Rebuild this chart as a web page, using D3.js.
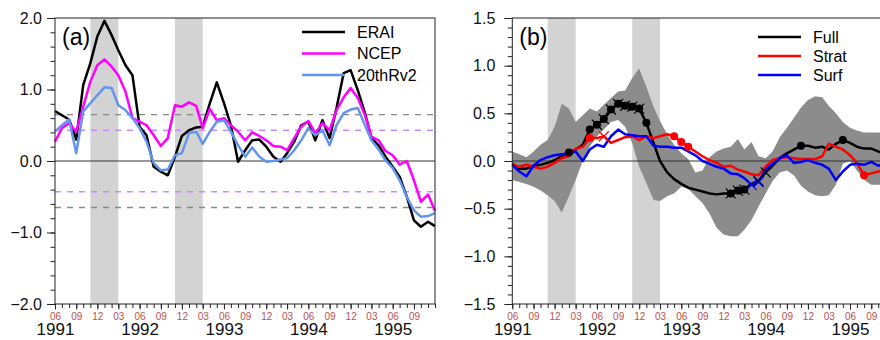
<!DOCTYPE html>
<html>
<head>
<meta charset="utf-8">
<script src="https://cdnjs.cloudflare.com/ajax/libs/d3/7.8.5/d3.min.js"></script>
<style>
    body { margin: 0; background: #fff; }
    svg { display: block; font-family: "Liberation Sans", Arial, Helvetica, sans-serif; }
</style>
</head>
<body>
<div id="vis"></div>
<script>
// monthly values, Jun 1991 .. Dec 1995 (55 months)
var erai = [0.70, 0.64, 0.58, 0.30, 1.06, 1.37, 1.74, 1.96, 1.76, 1.55, 1.34, 1.20,
    0.48, 0.36, -0.08, -0.15, -0.20, 0.06, 0.35, 0.43, 0.47, 0.48, 0.81, 1.10,
    0.81, 0.50, -0.01, 0.15, 0.29, 0.30, 0.20, 0.06, -0.01, 0.11, 0.27, 0.50,
    0.55, 0.29, 0.57, 0.32, 0.74, 1.23, 1.27, 0.99, 0.67, 0.32, 0.22, 0.06,
    -0.08, -0.22, -0.50, -0.83, -0.92, -0.85, -0.91];
var ncep = [0.27, 0.46, 0.53, 0.41, 0.76, 1.11, 1.34, 1.42, 1.32, 1.20, 0.97, 0.60,
    0.55, 0.50, 0.36, 0.21, 0.32, 0.78, 0.76, 0.82, 0.77, 0.46, 0.73, 0.57,
    0.60, 0.50, 0.41, 0.29, 0.40, 0.35, 0.29, 0.21, 0.20, 0.15, 0.32, 0.48,
    0.56, 0.39, 0.53, 0.43, 0.71, 0.89, 1.02, 0.88, 0.64, 0.34, 0.29, 0.14,
    0.08, -0.05, 0.00, -0.27, -0.57, -0.47, -0.70];
var rv2 = [0.41, 0.50, 0.58, 0.11, 0.69, 0.81, 0.92, 1.03, 1.02, 0.78, 0.71, 0.60,
    0.46, 0.27, -0.03, -0.13, -0.12, 0.08, 0.11, 0.39, 0.41, 0.24, 0.41, 0.55,
    0.57, 0.41, 0.22, 0.06, 0.19, 0.06, -0.01, 0.00, 0.02, 0.04, 0.15, 0.29,
    0.46, 0.36, 0.43, 0.22, 0.50, 0.67, 0.72, 0.74, 0.50, 0.29, 0.16, 0.01,
    -0.10, -0.27, -0.50, -0.69, -0.78, -0.77, -0.73];
var sigGray = [0.65, -0.65];
var sigPurple = [0.43, -0.43];

var full = [-0.03, -0.08, -0.08, -0.05, -0.04, -0.02, 0.01, 0.05, 0.09, 0.12, 0.17, 0.33,
    0.38, 0.44, 0.54, 0.60, 0.58, 0.57, 0.55, 0.40, 0.19, 0.00, -0.12, -0.19,
    -0.24, -0.28, -0.30, -0.32, -0.34, -0.35, -0.34, -0.34, -0.31, -0.30, -0.24, -0.21,
    -0.12, -0.05, 0.03, 0.08, 0.12, 0.16, 0.16, 0.14, 0.15, 0.12, 0.18, 0.22,
    0.19, 0.15, 0.13, 0.13, 0.10, 0.08, 0.07];
var strat = [-0.04, -0.06, -0.04, -0.06, -0.08, -0.06, -0.02, 0.03, 0.05, 0.13, 0.15, 0.24,
    0.24, 0.26, 0.19, 0.22, 0.25, 0.26, 0.22, 0.26, 0.24, 0.26, 0.28, 0.26,
    0.20, 0.15, 0.10, 0.05, 0.01, -0.02, -0.06, -0.05, -0.09, -0.11, -0.14, -0.15,
    -0.06, 0.01, 0.03, 0.04, 0.03, 0.02, 0.02, 0.02, 0.05, 0.18, 0.15, 0.12,
    0.06, -0.02, -0.15, -0.13, -0.11, -0.10, -0.09];
var surf = [-0.04, -0.11, -0.16, -0.05, 0.01, 0.04, 0.06, 0.07, 0.08, 0.10, 0.00, 0.12,
    0.17, 0.15, 0.26, 0.33, 0.28, 0.27, 0.26, 0.26, 0.16, 0.15, 0.15, 0.14,
    0.14, 0.10, 0.06, 0.00, -0.03, -0.06, -0.08, -0.13, -0.14, -0.18, -0.25, -0.22,
    -0.09, -0.03, 0.03, 0.06, -0.02, -0.01, 0.01, -0.02, -0.04, -0.08, -0.20, -0.11,
    -0.04, -0.03, -0.04, -0.01, -0.05, -0.03, -0.03];
var envHigh = [0.10, 0.07, 0.04, 0.10, 0.17, 0.22, 0.36, 0.60, 0.55, 0.41, 0.48, 0.55,
    0.52, 0.59, 0.66, 0.73, 0.74, 0.87, 0.97, 0.78, 0.57, 0.42, 0.28, 0.17,
    0.08, 0.02, -0.12, -0.10, 0.04, 0.10, 0.13, 0.15, 0.23, 0.12, 0.20, 0.05,
    0.03, 0.10, 0.25, 0.35, 0.45, 0.56, 0.64, 0.68, 0.67, 0.58, 0.50, 0.41,
    0.35, 0.32, 0.30, 0.30, 0.30, 0.29, 0.29];
var envLow = [-0.20, -0.22, -0.24, -0.27, -0.31, -0.36, -0.42, -0.54, -0.37, -0.20, 0.00, 0.15,
    0.26, 0.33, 0.41, 0.43, 0.36, 0.19, -0.06, -0.23, -0.41, -0.42, -0.37, -0.34,
    -0.27, -0.29, -0.37, -0.44, -0.55, -0.70, -0.77, -0.79, -0.79, -0.72, -0.62, -0.48,
    -0.34, -0.21, -0.12, -0.10, -0.15, -0.26, -0.32, -0.36, -0.37, -0.36, -0.25, -0.03,
    0.00, -0.10, -0.20, -0.25, -0.25, -0.25, -0.25];

// month indices carrying markers
var fullDots = [8, 11, 19, 41, 47];
var fullStars = [12, 13, 14, 15, 16, 17, 18, 31, 32, 33];
var fullCross = [35, 36];
var stratDots = [11, 23, 24, 25, 50];
var stratCross = [13];
var surfCross = [34, 35];

// NDJFM shading
var shadeStart = [new Date(1991, 10, 1), new Date(1992, 10, 1)];
var shadeEnd = [new Date(1992, 2, 1), new Date(1993, 2, 1)];

var start = new Date(1991, 5, 1);
var months = d3.range(55).map(function(i) { return d3.timeMonth.offset(start, i); });

var svg = d3.select('#vis')
    .append('svg')
    .attr('width', 880)
    .attr('height', 340);

var plotTop = 18, plotBottom = 304;

var drawPanel = function(opt) {
    var x = d3.scaleTime()
        .domain([start, new Date(1995, 11, 1)])
        .range([opt.left, opt.left + 380]);
    var y = d3.scaleLinear().domain(opt.ydom).range([plotBottom, plotTop]);

    var g = svg.append('g');

    // shaded winters
    g.selectAll('.shade').data(shadeStart).enter().append('rect')
        .attr('x', function(d) { return x(d); })
        .attr('width', function(d, i) { return x(shadeEnd[i]) - x(d); })
        .attr('y', plotTop)
        .attr('height', plotBottom - plotTop)
        .attr('fill', '#d3d3d3');

    opt.under(g, x, y);

    // zero line
    g.append('line')
        .attr('x1', x.range()[0]).attr('x2', x.range()[1])
        .attr('y1', y(0)).attr('y2', y(0))
        .attr('stroke', '#333').attr('stroke-width', 1);

    var line = d3.line()
        .x(function(d, i) { return x(months[i]); })
        .y(function(d) { return y(d); });

    opt.series.forEach(function(s) {
        g.append('path')
            .datum(s.values)
            .attr('d', line)
            .attr('fill', 'none')
            .attr('stroke', s.color)
            .attr('stroke-width', 2.5)
            .attr('stroke-linejoin', 'round');
    });

    if (opt.over) opt.over(g, x, y);

    // frame
    g.append('rect')
        .attr('x', x.range()[0]).attr('y', plotTop)
        .attr('width', 380).attr('height', plotBottom - plotTop)
        .attr('fill', 'none').attr('stroke', '#222').attr('stroke-width', 1);

    // y axis
    var yMinor = d3.axisLeft(y).tickValues(d3.range(opt.ydom[0], opt.ydom[1] + 1e-9, opt.ystep / 5))
        .tickSize(4.5).tickFormat('');
    g.append('g').attr('transform', 'translate(' + x.range()[0] + ',0)').call(yMinor);
    var yMajor = d3.axisLeft(y).tickValues(d3.range(opt.ydom[0], opt.ydom[1] + 1e-9, opt.ystep))
        .tickSize(8).tickPadding(opt.ypad).tickFormat(d3.format('.1f'));
    g.append('g').attr('transform', 'translate(' + x.range()[0] + ',0)').call(yMajor)
        .selectAll('text').style('font-size', '16px').attr('fill', '#111');

    // x axis
    var xMinor = d3.axisBottom(x).tickValues(months).tickSize(4).tickFormat('');
    g.append('g').attr('transform', 'translate(0,' + plotBottom + ')').call(xMinor);
    var xMajor = d3.axisBottom(x)
        .tickValues(months.filter(function(d, i) { return i % 3 === 0 && i < 54; }))
        .tickSize(5.5).tickPadding(3).tickFormat(d3.timeFormat('%m'));
    g.append('g').attr('transform', 'translate(0,' + plotBottom + ')').call(xMajor)
        .selectAll('text').style('font-size', '10px').attr('fill', '#c0504d');
    var xYear = d3.axisBottom(x)
        .tickValues(months.filter(function(d) { return d.getMonth() === 5; }))
        .tickSize(0).tickPadding(19).tickFormat(d3.timeFormat('%Y'));
    g.append('g').attr('transform', 'translate(0,' + plotBottom + ')').call(xYear)
        .selectAll('text').style('font-size', '17px').attr('fill', '#111');

    g.selectAll('.domain').remove();
    g.selectAll('.tick line').attr('stroke', '#222');

    // panel label
    g.append('text')
        .attr('x', x.range()[0] + 7).attr('y', 45)
        .style('font-size', '23px')
        .text(opt.label);

    // legend
    opt.series.forEach(function(s, i) {
        var ly = opt.legendY + i * opt.legendGap;
        g.append('line')
            .attr('x1', opt.legendX).attr('x2', opt.legendX + 43)
            .attr('y1', ly).attr('y2', ly)
            .attr('stroke', s.color).attr('stroke-width', 2.5);
        g.append('text')
            .attr('x', opt.legendX + 55).attr('y', ly)
            .attr('dy', '0.35em')
            .style('font-size', '16px')
            .text(s.name);
    });
};

// panel (a)
drawPanel({
    left: 55,
    ydom: [-2, 2],
    ystep: 1,
    ypad: 5,
    label: '(a)',
    legendX: 302,
    legendY: 32,
    legendGap: 21.5,
    series: [
        {name: 'ERAI', values: erai, color: '#000'},
        {name: 'NCEP', values: ncep, color: '#ff00ff'},
        {name: '20thRv2', values: rv2, color: '#6495ed'}
    ],
    under: function(g, x, y) {
        var dashed = function(vals, color) {
            g.selectAll(null).data(vals).enter().append('line')
                .attr('x1', x.range()[0]).attr('x2', x.range()[1])
                .attr('y1', function(d) { return y(d); })
                .attr('y2', function(d) { return y(d); })
                .attr('stroke', color).attr('stroke-width', 1.3)
                .attr('stroke-dasharray', '6,6');
        };
        dashed(sigGray, '#888');
        dashed(sigPurple, '#c98aff');
    }
});

// panel (b)
drawPanel({
    left: 512.3,
    ydom: [-1.5, 1.5],
    ystep: 0.5,
    ypad: 9,
    label: '(b)',
    legendX: 758,
    legendY: 37,
    legendGap: 19,
    series: [
        {name: 'Full', values: full, color: '#000'},
        {name: 'Strat', values: strat, color: '#ff0000'},
        {name: 'Surf', values: surf, color: '#0000ff'}
    ],
    under: function(g, x, y) {
        var area = d3.area()
            .x(function(d, i) { return x(months[i]); })
            .y0(function(d, i) { return y(envLow[i]); })
            .y1(function(d) { return y(d); });
        g.append('path').datum(envHigh)
            .attr('d', area)
            .attr('fill', '#8c8c8c');
    },
    over: function(g, x, y) {
        var dots = function(idx, vals, color) {
            g.selectAll(null).data(idx).enter().append('circle')
                .attr('cx', function(i) { return x(months[i]); })
                .attr('cy', function(i) { return y(vals[i]); })
                .attr('r', 4)
                .attr('fill', color);
        };
        var crosses = function(idx, vals, color, r) {
            g.selectAll(null).data(idx).enter().append('path')
                .attr('d', function(i) {
                    var cx = x(months[i]), cy = y(vals[i]);
                    return 'M' + (cx - r) + ',' + (cy - r) + 'L' + (cx + r) + ',' + (cy + r) +
                        'M' + (cx - r) + ',' + (cy + r) + 'L' + (cx + r) + ',' + (cy - r);
                })
                .attr('stroke', color).attr('stroke-width', 1.2).attr('fill', 'none');
        };
        dots(fullDots, full, '#000');
        dots(fullStars, full, '#000');
        crosses(fullStars, full, '#000', 5);
        crosses(fullCross, full, '#000', 5);
        crosses(surfCross, surf, '#0000ff', 5);
        dots(stratDots, strat, '#ff0000');
        crosses(stratCross, strat, '#ff0000', 5);
    }
});
</script>
</body>
</html>
